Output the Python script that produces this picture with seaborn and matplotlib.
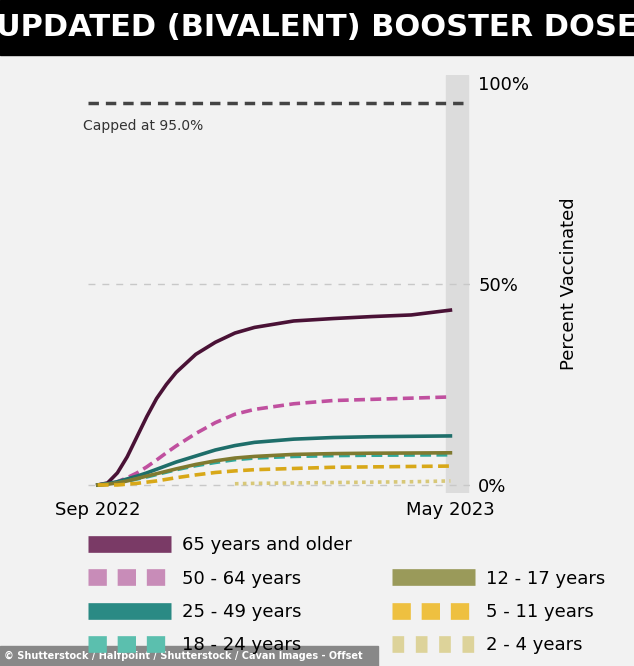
import matplotlib
matplotlib.use("Agg")
import matplotlib.pyplot as plt
import seaborn as sns
import pandas as pd
from matplotlib.lines import Line2D
from matplotlib.patches import Rectangle

weeks = [0,1,2,3,4,5,6,7,8,10,12,14,16,20,24,28,32,36]
age_65 = [0,0.5,3,7,12,17,21.5,25,28,32.5,35.5,37.8,39.2,40.8,41.4,41.9,42.3,43.5]
age_50_64 = [0,0.2,0.8,1.8,3,4.5,6.2,8,9.7,12.8,15.5,17.6,18.8,20.2,21,21.3,21.6,21.9]
age_25_49 = [0,0.3,0.8,1.5,2.2,3,3.9,4.8,5.7,7.2,8.7,9.8,10.6,11.4,11.8,12,12.1,12.2]
age_18_24 = [0,0.2,0.5,1.0,1.5,2.0,2.6,3.2,3.8,4.8,5.6,6.3,6.7,7.1,7.3,7.4,7.45,7.5]
age_12_17 = [0,0.2,0.5,1.0,1.6,2.2,2.8,3.4,4.0,5.1,6.0,6.7,7.1,7.6,7.8,7.9,7.95,8.0]
age_5_11 = [0,0,0,0.2,0.4,0.7,1.0,1.4,1.8,2.5,3.1,3.5,3.8,4.1,4.4,4.5,4.6,4.7]
age_2_4 = [None]*11 + [0.3,0.4,0.5,0.6,0.7,0.8,1.0]

series = [
    ("65 years and older", age_65, "#4a1236", "-", "#7a3a66"),
    ("50 - 64 years", age_50_64, "#c0509f", (0,(3,1.5)), "#c88cb8"),
    ("25 - 49 years", age_25_49, "#1e6e6a", "-", "#2a8a84"),
    ("18 - 24 years", age_18_24, "#2fa89a", (0,(3,1.5)), "#5bbfae"),
    ("12 - 17 years", age_12_17, "#7f7a30", "-", "#9a9a5a"),
    ("5 - 11 years", age_5_11, "#d8a818", (0,(3,1.5)), "#eec040"),
    ("2 - 4 years", age_2_4, "#d8c878", (0,(1,1.2)), "#ddd39a"),
]

bg = "#f2f2f2"
fig = plt.figure(figsize=(6.34, 6.66), dpi=100, facecolor=bg)
ax = fig.add_axes([88/634, 1-493/666, (470-88)/634, (493-75)/666], facecolor=bg)

ax.axvspan(35.5, 37.8, color="#dcdcdc", zorder=0)
for yv in (0, 50):
    ax.axhline(yv, color="#c8c8c8", ls=(0,(5,5)), lw=1, zorder=1)
ax.axhline(95, color="#444444", ls=(0,(3,2)), lw=2.5, zorder=1)
ax.text(-1.5, 91, "Capped at 95.0%", fontsize=10, color="#333333", va="top")

for name, vals, col, ls, _ in series:
    df = pd.DataFrame({"week": weeks, "pct": vals}).dropna()
    sns.lineplot(data=df, x="week", y="pct", ax=ax, color=col, lw=2.6, linestyle=ls, zorder=3)

ax.set_xlim(-1, 38)
ax.set_ylim(-2, 102)
ax.yaxis.tick_right()
ax.yaxis.set_label_position("right")
ax.set_yticks([0, 50, 100])
ax.set_yticklabels(["0%", "50%", "100%"], fontsize=13)
ax.set_xticks([0, 36])
ax.set_xticklabels(["Sep 2022", "May 2023"], fontsize=13)
ax.tick_params(length=0, pad=6)
ax.set_xlabel("")
ax.set_ylabel("Percent Vaccinated", fontsize=13, labelpad=22)
for s in ax.spines.values():
    s.set_visible(False)

handles = []
labels = []
order = [0, 1, 2, 3, None, 4, 5, 6]
for i in order:
    if i is None:
        handles.append(Line2D([], [], color="none"))
        labels.append("")
    else:
        name, _, _, ls, lc = series[i]
        dash = "-" if ls == "-" else ((0, (1.1, 0.65)) if i != 6 else (0, (0.7, 0.7)))
        handles.append(Line2D([], [], color=lc, lw=12, linestyle=dash,
                              solid_capstyle="butt", dash_capstyle="butt"))
        labels.append(name)
fig.legend(handles, labels, loc="upper left", bbox_to_anchor=(72/634, 1-520/666), ncol=2,
           frameon=False, fontsize=13, handlelength=4.6, handletextpad=0.6, columnspacing=2.2,
           labelspacing=0.85)

fig.patches.append(Rectangle((0, 1-55/666), 1, 55/666, transform=fig.transFigure, color="black"))
fig.text(0.5, 1-28/666, "UPDATED (BIVALENT) BOOSTER DOSE", color="white", fontsize=22,
         fontweight="bold", ha="center", va="center")
fig.patches.append(Rectangle((0, 0), 378/634, 20/666, transform=fig.transFigure, color="#888888"))
fig.text(4/634, 10/666, "© Shutterstock / Halfpoint / Shutterstock / Cavan Images - Offset",
         color="white", fontsize=7, fontweight="bold", va="center")

fig.savefig("out.png", dpi=100, facecolor=bg)
